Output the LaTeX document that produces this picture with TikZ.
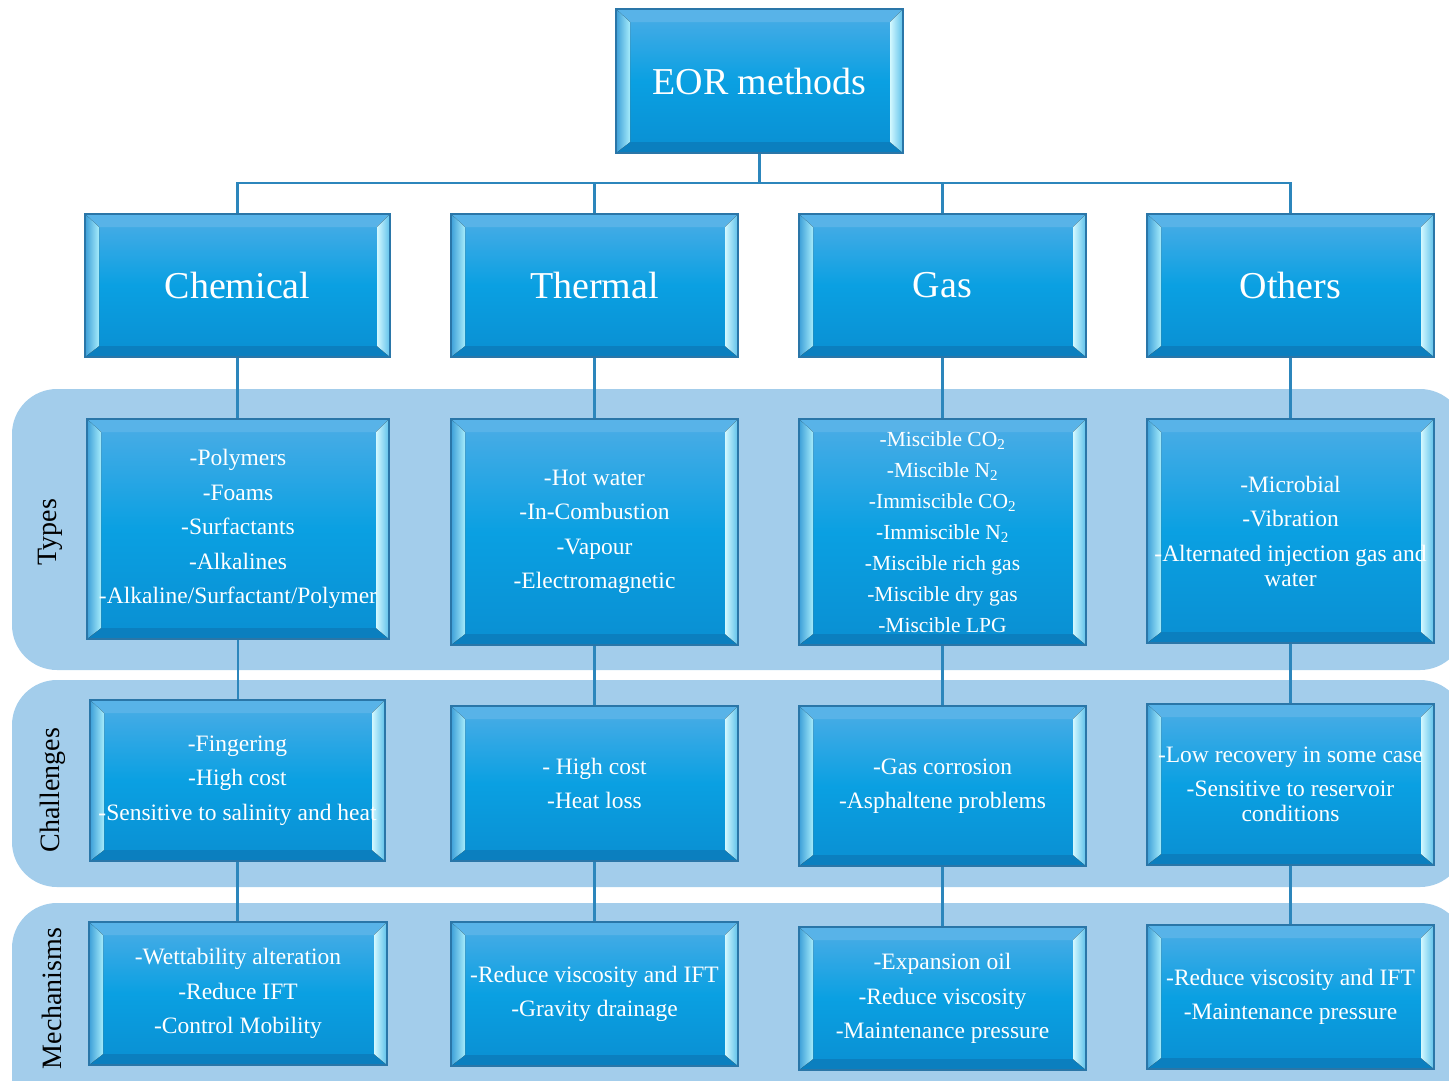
\documentclass[tikz,border=0pt]{standalone}
\usepackage{fontspec}
\setmainfont{Liberation Serif}
\usetikzlibrary{calc}
\definecolor{band}{HTML}{A3CDEB}
\definecolor{edge}{HTML}{2A76A8}
\definecolor{conncol}{HTML}{2C86BC}
\definecolor{facetop}{HTML}{4DADE6}
\definecolor{facemid}{HTML}{0AA0E2}
\definecolor{facebot}{HTML}{0A8FD2}
\definecolor{bevtopc}{HTML}{58B3E8}
\definecolor{bevbotc}{HTML}{0B7FBF}
\definecolor{bevLa}{HTML}{3C9FD8}
\definecolor{bevLb}{HTML}{A6ECFB}
\definecolor{bevRa}{HTML}{D2F8FF}
\definecolor{bevRb}{HTML}{5DC0EA}
\tikzset{
  bev/.style={rectangle, draw=edge, line width=1.3pt, inner sep=0pt, align=center, text=white,
    top color=facetop, bottom color=facebot, middle color=facemid,
    path picture={
      \coordinate (PNW) at (path picture bounding box.north west);
      \coordinate (PNE) at (path picture bounding box.north east);
      \coordinate (PSE) at (path picture bounding box.south east);
      \coordinate (PSW) at (path picture bounding box.south west);
      \coordinate (Qnw) at ([xshift=14pt,yshift=-13pt]PNW);
      \coordinate (Qne) at ([xshift=-13pt,yshift=-13pt]PNE);
      \coordinate (Qse) at ([xshift=-13pt,yshift=11pt]PSE);
      \coordinate (Qsw) at ([xshift=14pt,yshift=11pt]PSW);
      \fill[bevtopc] (PNW) -- (PNE) -- (Qne) -- (Qnw) -- cycle;
      \fill[bevbotc] (PSW) -- (PSE) -- (Qse) -- (Qsw) -- cycle;
      \fill[left color=bevLa, right color=bevLb] (PNW) -- (Qnw) -- (Qsw) -- (PSW) -- cycle;
      \fill[left color=bevRa, right color=bevRb] (PNE) -- (Qne) -- (Qse) -- (PSE) -- cycle;
    }},
  bigtext/.style={font=\fontsize{38}{44}\selectfont},
  body/.style={font=\fontsize{23.5}{25}\selectfont},
  gasbody/.style={font=\fontsize{21.5}{23}\selectfont},
  conn/.style={draw=conncol, line width=2.6pt},
  side/.style={rotate=90, font=\fontsize{28}{32}\selectfont, text=black},
}
\newcommand{\pg}{\\[9.5pt]}
\newcommand{\gp}{\\[8pt]}
\begin{document}
\begin{tikzpicture}[x=1pt,y=-1pt]
\useasboundingbox (0,0) rectangle (1449,1080);
\clip (0,0) rectangle (1449,1080);
% bands
\fill[band, rounded corners=45pt] (12,389) rectangle (1465,670);
\fill[band, rounded corners=45pt] (12,680) rectangle (1465,887);
\fill[band, rounded corners=45pt] (12,903) rectangle (1465,1135);
% side labels
\node[side] (lt) at (50,532) {Types};
\node[side] (lc) at (53,790) {Challenges};
\node[side] (lm) at (52,998.5) {Mechanisms};
% top
\node[bev, bigtext, minimum width=287pt, minimum height=144pt] (eor) at (759.5,81) {EOR methods};
% level 1
\node[bev, bigtext, minimum width=305pt, minimum height=143pt] (chem) at (237.5,285.5) {Chemical};
\node[bev, bigtext, minimum width=287pt, minimum height=143pt] (therm) at (594.5,285.5) {Thermal};
\node[bev, bigtext, minimum width=287pt, minimum height=143pt] (gas) at (942.5,285.5) {Gas};
\node[bev, bigtext, minimum width=287pt, minimum height=143pt] (oth) at (1290.5,285.5) {Others};
% connectors top
\coordinate (hub) at (759.5,183);
\draw[conn] (eor.south) -- (hub);
\draw[conn] (hub) -| (chem.north);
\draw[conn] (hub) -| (therm.north);
\draw[conn] (hub) -| (gas.north);
\draw[conn] (hub) -| (oth.north);
% types
\node[bev, body, minimum width=302pt, minimum height=220pt] (chemT) at (238,529)
 {-Polymers\pg -Foams\pg -Surfactants\pg -Alkalines\pg -Alkaline/Surfactant/Polymer};
\node[bev, body, minimum width=287pt, minimum height=226pt] (thermT) at (594.5,532)
 {-Hot water\pg -In-Combustion\pg -Vapour\pg -Electromagnetic};
\node[bev, gasbody, minimum width=287pt, minimum height=226pt] (gasT) at (942.5,532)
 {-Miscible CO\textsubscript{2}\gp -Miscible N\textsubscript{2}\gp -Immiscible CO\textsubscript{2}\gp -Immiscible N\textsubscript{2}\gp -Miscible rich gas\gp -Miscible dry gas\gp -Miscible LPG};
\node[bev, body, minimum width=287pt, minimum height=224pt] (othT) at (1290.5,531)
 {-Microbial\pg -Vibration\pg -Alternated injection gas and\\ water};
% challenges
\node[bev, body, minimum width=295pt, minimum height=161pt] (chemC) at (237.5,780.5)
 {-Fingering\pg -High cost\pg -Sensitive to salinity and heat};
\node[bev, body, minimum width=287pt, minimum height=155pt] (thermC) at (594.5,783.5)
 {- High cost\pg -Heat loss};
\node[bev, body, minimum width=287pt, minimum height=160pt] (gasC) at (942.5,786)
 {-Gas corrosion\pg -Asphaltene problems};
\node[bev, body, minimum width=287pt, minimum height=161pt] (othC) at (1290.5,784.5)
 {-Low recovery in some case\pg -Sensitive to reservoir\\ conditions};
% mechanisms
\node[bev, body, minimum width=298pt, minimum height=143pt] (chemM) at (238,993.5)
 {-Wettability alteration\pg -Reduce IFT\pg -Control Mobility};
\node[bev, body, minimum width=287pt, minimum height=144pt] (thermM) at (594.5,994)
 {-Reduce viscosity and IFT\pg -Gravity drainage};
\node[bev, body, minimum width=287pt, minimum height=143pt] (gasM) at (942.5,998.5)
 {-Expansion oil\pg -Reduce viscosity\pg -Maintenance pressure};
\node[bev, body, minimum width=287pt, minimum height=144pt] (othM) at (1290.5,997)
 {-Reduce viscosity and IFT\pg -Maintenance pressure};
% vertical connectors
\foreach \a/\b in {chem/chemT, chemT/chemC, chemC/chemM, therm/thermT, thermT/thermC, thermC/thermM, gas/gasT, gasT/gasC, gasC/gasM, oth/othT, othT/othC, othC/othM}
  \draw[conn] (\a.south) -- (\a.south |- \b.north);
\end{tikzpicture}
\end{document}
